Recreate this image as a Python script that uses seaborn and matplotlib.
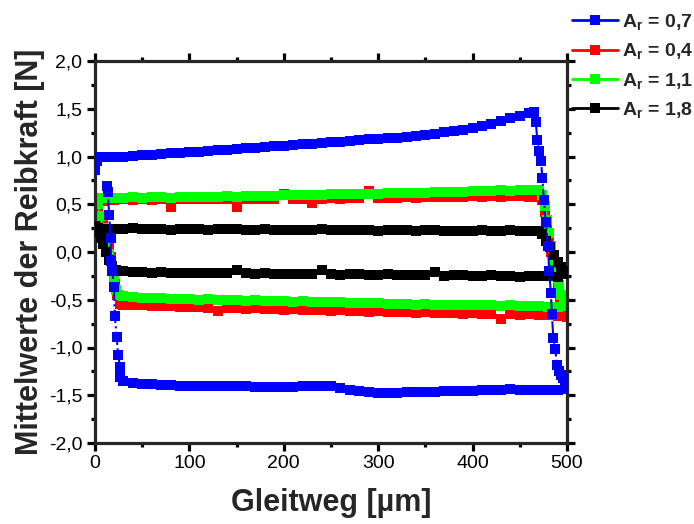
import matplotlib
matplotlib.use("Agg")
import matplotlib.pyplot as plt
from matplotlib.ticker import MultipleLocator, FuncFormatter
from matplotlib.lines import Line2D
import seaborn as sns

# ---- sampling positions of the forward / backward plateaus [µm] ----
x_top = [10, 20, 30, 40, 50, 60, 70, 80, 90, 100,
         110, 120, 130, 140, 150, 160, 170, 180, 190, 200,
         210, 220, 230, 240, 250, 260, 270, 280, 290, 300,
         310, 320, 330, 340, 350, 360, 370, 380, 390, 400,
         410, 420, 430, 440, 450, 460]
x_bot = [490, 480, 470, 460, 450, 440, 430, 420, 410, 400,
         390, 380, 370, 360, 350, 340, 330, 320, 310, 300,
         290, 280, 270, 260, 250, 240, 230, 220, 210, 200,
         190, 180, 170, 160, 150, 140, 130, 120, 110, 100,
         90, 80, 70, 60, 50, 40, 30]

# ---- A_r = 0,7 ----
b_start_x = [0, 2, 5]
b_start_y = [0.86, 0.95, 0.99]
b_top = [0.99, 1.00, 1.00, 1.01, 1.02, 1.02, 1.03, 1.04, 1.04, 1.05,
         1.05, 1.06, 1.07, 1.07, 1.08, 1.09, 1.09, 1.10, 1.11, 1.11,
         1.12, 1.13, 1.13, 1.14, 1.15, 1.15, 1.16, 1.17, 1.18, 1.18,
         1.19, 1.19, 1.20, 1.21, 1.22, 1.24, 1.26, 1.27, 1.28, 1.30,
         1.32, 1.34, 1.37, 1.40, 1.42, 1.46]
b_right_x = [465, 467, 468.5, 470.5, 472.5, 474, 475.5, 477.5, 480, 481,
             483, 484, 485.5, 487.5, 489.5, 492, 494, 496, 498, 500]
b_right_y = [1.47, 1.36, 1.17, 1.06, 0.95, 0.77, 0.54, 0.31, 0.06, -0.20,
             -0.43, -0.65, -0.90, -1.02, -1.18, -1.25, -1.29, -1.32, -1.36, -1.43]
b_bot = [-1.45, -1.45, -1.44, -1.44, -1.44, -1.43, -1.44, -1.45, -1.45, -1.46,
         -1.46, -1.46, -1.46, -1.47, -1.47, -1.47, -1.47, -1.48, -1.48, -1.48,
         -1.47, -1.46, -1.44, -1.42, -1.40, -1.40, -1.40, -1.40, -1.41, -1.41,
         -1.41, -1.41, -1.41, -1.40, -1.40, -1.40, -1.40, -1.40, -1.40, -1.40,
         -1.40, -1.39, -1.39, -1.38, -1.38, -1.37, -1.35]
b_left_x = [27, 26.5, 24.5, 23, 21, 20, 18.5, 17, 16.5, 15, 13.5, 12.5]
b_left_y = [-1.31, -1.20, -1.08, -0.89, -0.67, -0.37, -0.20, -0.09, 0.15, 0.39, 0.63, 0.69]

# ---- A_r = 0,4 ----
r_start_x = [0, 3, 6]
r_start_y = [0.45, 0.50, 0.53]
r_top = [0.53, 0.54, 0.55, 0.54, 0.55, 0.54, 0.55, 0.47, 0.55, 0.55,
         0.55, 0.55, 0.56, 0.55, 0.47, 0.55, 0.56, 0.56, 0.56, 0.61,
         0.56, 0.56, 0.51, 0.56, 0.57, 0.56, 0.57, 0.57, 0.64, 0.57,
         0.57, 0.57, 0.58, 0.57, 0.58, 0.58, 0.58, 0.58, 0.58, 0.59,
         0.58, 0.59, 0.58, 0.59, 0.59, 0.58]
r_right_x = [470, 474, 477, 479, 481, 483, 485, 487, 490, 493, 496, 500]
r_right_y = [0.58, 0.54, 0.42, 0.28, 0.14, 0.00, -0.12, -0.25, -0.38, -0.50, -0.60, -0.68]
r_bot = [-0.67, -0.66, -0.66, -0.65, -0.66, -0.65, -0.70, -0.65, -0.65, -0.64,
         -0.65, -0.64, -0.64, -0.64, -0.63, -0.64, -0.63, -0.63, -0.63, -0.62,
         -0.63, -0.62, -0.62, -0.61, -0.62, -0.61, -0.61, -0.61, -0.60, -0.61,
         -0.60, -0.60, -0.59, -0.60, -0.59, -0.59, -0.62, -0.59, -0.58, -0.58,
         -0.58, -0.57, -0.57, -0.57, -0.56, -0.56, -0.55]
r_left_x = [26, 23, 21, 19, 17, 15, 12, 9, 6, 3]
r_left_y = [-0.54, -0.45, -0.33, -0.20, -0.05, 0.08, 0.20, 0.30, 0.38, 0.42]

# ---- A_r = 1,1 ----
g_start_x = [0, 3, 6]
g_start_y = [0.52, 0.56, 0.57]
g_top = [0.57, 0.57, 0.57, 0.58, 0.57, 0.58, 0.58, 0.57, 0.58, 0.58,
         0.58, 0.58, 0.58, 0.59, 0.58, 0.59, 0.59, 0.59, 0.59, 0.60,
         0.60, 0.60, 0.60, 0.60, 0.61, 0.61, 0.61, 0.61, 0.61, 0.61,
         0.62, 0.62, 0.62, 0.62, 0.62, 0.63, 0.63, 0.63, 0.63, 0.64,
         0.64, 0.64, 0.65, 0.64, 0.65, 0.65]
g_right_x = [470, 474, 477, 479, 481, 483, 485, 488, 491, 494, 497, 500]
g_right_y = [0.65, 0.60, 0.48, 0.34, 0.20, 0.06, -0.08, -0.22, -0.35, -0.45, -0.52, -0.57]
g_bot = [-0.58, -0.58, -0.57, -0.57, -0.57, -0.56, -0.57, -0.56, -0.56, -0.56,
         -0.55, -0.55, -0.55, -0.55, -0.54, -0.55, -0.54, -0.54, -0.54, -0.53,
         -0.53, -0.53, -0.53, -0.52, -0.52, -0.52, -0.52, -0.51, -0.52, -0.51,
         -0.51, -0.51, -0.50, -0.51, -0.50, -0.50, -0.50, -0.49, -0.50, -0.49,
         -0.49, -0.49, -0.48, -0.48, -0.48, -0.47, -0.46]
g_left_x = [25, 22, 20, 18, 15, 12, 9, 6, 3, 1]
g_left_y = [-0.45, -0.40, -0.30, -0.15, -0.02, 0.10, 0.25, 0.38, 0.50, 0.56]

# ---- A_r = 1,8 ----
k_start_x = [0, 3, 6]
k_start_y = [0.27, 0.25, 0.24]
k_top = [0.24, 0.24, 0.24, 0.25, 0.24, 0.24, 0.24, 0.23, 0.24, 0.24,
         0.24, 0.23, 0.24, 0.24, 0.24, 0.23, 0.23, 0.24, 0.23, 0.23,
         0.23, 0.23, 0.23, 0.24, 0.23, 0.23, 0.23, 0.23, 0.23, 0.22,
         0.23, 0.23, 0.23, 0.22, 0.23, 0.23, 0.22, 0.22, 0.22, 0.22,
         0.23, 0.22, 0.22, 0.23, 0.22, 0.22]
k_right_x = [470, 474, 478, 482, 486, 490, 494, 497, 500]
k_right_y = [0.22, 0.19, 0.12, 0.05, -0.03, -0.10, -0.16, -0.20, -0.23]
k_bot = [-0.26, -0.25, -0.25, -0.25, -0.26, -0.25, -0.25, -0.24, -0.25, -0.25,
         -0.24, -0.24, -0.25, -0.21, -0.24, -0.24, -0.24, -0.24, -0.23, -0.24,
         -0.24, -0.23, -0.23, -0.24, -0.23, -0.19, -0.23, -0.23, -0.23, -0.23,
         -0.23, -0.22, -0.23, -0.22, -0.19, -0.22, -0.22, -0.22, -0.22, -0.22,
         -0.22, -0.22, -0.21, -0.22, -0.21, -0.21, -0.20]
k_left_x = [26, 22, 18, 15, 12, 9, 6, 3]
k_left_y = [-0.20, -0.19, -0.15, -0.08, 0.00, 0.08, 0.15, 0.21]

labels = ["0,7", "0,4", "1,1", "1,8"]
colors = ["#0000ff", "#ff0000", "#00ff00", "#000000"]
layers = [4, 1, 2, 3]


def loop(sx, sy, top, rx, ry, bot, lx, ly):
    xs = sx + x_top + rx + x_bot + lx
    ys = sy + top + ry + bot + ly
    return xs, ys


loops = [
    loop(b_start_x, b_start_y, b_top, b_right_x, b_right_y, b_bot, b_left_x, b_left_y),
    loop(r_start_x, r_start_y, r_top, r_right_x, r_right_y, r_bot, r_left_x, r_left_y),
    loop(g_start_x, g_start_y, g_top, g_right_x, g_right_y, g_bot, g_left_x, g_left_y),
    loop(k_start_x, k_start_y, k_top, k_right_x, k_right_y, k_bot, k_left_x, k_left_y),
]

sns.set_style("ticks")
plt.rcParams["font.family"] = ["Liberation Sans", "DejaVu Sans"]
plt.rcParams["mathtext.fontset"] = "custom"
plt.rcParams["mathtext.rm"] = "Liberation Sans:bold"
plt.rcParams["mathtext.default"] = "rm"

fig = plt.figure(figsize=(6.94, 5.24), dpi=100)
ax = fig.add_axes([95 / 694, 1 - 443 / 524, 472 / 694, 382 / 524])

for (xs, ys), lab, col, z in zip(loops, labels, colors, layers):
    sns.lineplot(x=xs, y=ys, sort=False, estimator=None, ax=ax,
                 color=col, marker="s", markersize=7.2, markeredgewidth=0,
                 linestyle="-.", linewidth=1.5, zorder=z, legend=False)

ax.set_xlim(0, 500)
ax.set_ylim(-2.0, 2.0)
ax.xaxis.set_major_locator(MultipleLocator(100))
ax.xaxis.set_minor_locator(MultipleLocator(50))
ax.yaxis.set_major_locator(MultipleLocator(0.5))
ax.yaxis.set_minor_locator(MultipleLocator(0.25))
ax.yaxis.set_major_formatter(FuncFormatter(lambda v, _: f"{v:.1f}".replace(".", ",")))
ax.xaxis.set_major_formatter(FuncFormatter(lambda v, _: f"{v:.0f}"))

for sp in ax.spines.values():
    sp.set_linewidth(2.3)
    sp.set_visible(True)
ax.tick_params(which="both", direction="out", top=True, right=True,
               width=2.3, labelsize=14, colors="black")
ax.tick_params(which="major", length=5.5)
ax.tick_params(which="minor", length=3)
ax.tick_params(axis="x", pad=3)

ax.set_xlabel("Gleitweg [µm]", fontsize=22, fontweight="bold", labelpad=12)
ax.set_ylabel("Mittelwerte der Reibkraft [N]", fontsize=22, fontweight="bold", labelpad=3)

# legend keys: solid line with square marker
handles = [Line2D([], [], color=c, linestyle="-", linewidth=2, marker="s",
                  markersize=7.2, markeredgewidth=0) for c in colors]
fig.legend(handles, ["A$_r$ = " + s for s in labels], loc="upper left",
           bbox_to_anchor=(572 / 694, 1 - 12 / 524),
           frameon=False, handlelength=2.35, handletextpad=0.2,
           labelspacing=0.48, borderaxespad=0, borderpad=0,
           prop={"weight": "bold", "size": 14})

fig.savefig("out.png", dpi=100)
